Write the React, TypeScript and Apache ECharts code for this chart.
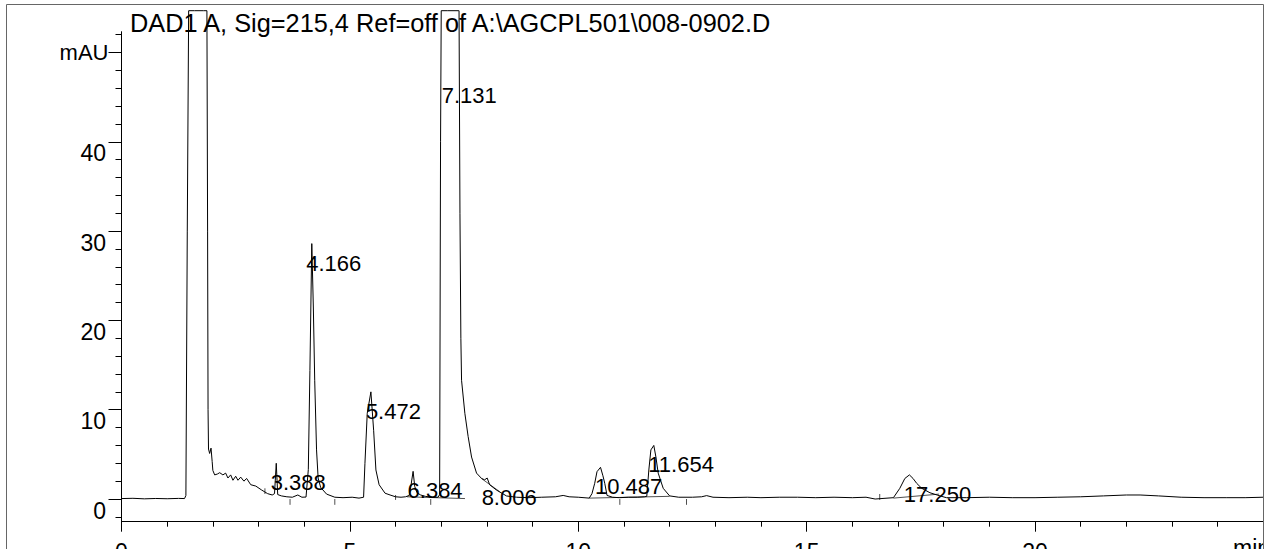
import React, { useEffect, useRef } from "react";
import * as echarts from "echarts";

// ---- Data ----
const TITLE = "DAD1 A, Sig=215,4 Ref=off of A:\\AGCPL501\\008-0902.D";

// retention time (min)
const timeMin = [
  0.0, 0.25, 0.5, 0.75, 1.0, 1.25, 1.38, 1.41, 1.44, 1.47,
  1.6, 1.8, 1.87, 1.885, 1.895, 1.905, 1.93, 1.96, 1.985, 2.0,
  2.04, 2.1, 2.15, 2.22, 2.28, 2.33, 2.39, 2.44, 2.5, 2.55,
  2.61, 2.68, 2.74, 2.83, 2.94, 3.07, 3.2, 3.3, 3.35, 3.388,
  3.42, 3.5, 3.62, 3.74, 3.86, 3.95, 4.04, 4.09, 4.125, 4.166,
  4.2, 4.23, 4.27, 4.305, 4.36, 4.49, 4.67, 4.85, 5.05, 5.2,
  5.3, 5.33, 5.38, 5.46, 5.52, 5.57, 5.64, 5.77, 5.88, 6.0,
  6.12, 6.22, 6.3, 6.34, 6.384, 6.42, 6.47, 6.55, 6.65, 6.8,
  6.93, 6.965, 6.985, 7.0, 7.131, 7.37, 7.39, 7.41, 7.43, 7.445,
  7.517, 7.589, 7.664, 7.773, 7.883, 7.95, 8.006, 8.06, 8.21, 8.43,
  8.65, 8.9, 9.2, 9.5, 9.67, 9.8, 10.0, 10.24, 10.3, 10.36,
  10.41, 10.487, 10.54, 10.58, 10.63, 10.75, 10.9, 11.1, 11.3, 11.45,
  11.5, 11.545, 11.59, 11.654, 11.7, 11.75, 11.86, 12.0, 12.2, 12.5,
  12.7, 12.81, 12.95, 13.3, 13.7, 14.0, 14.4, 14.8, 15.2, 15.6,
  16.0, 16.3, 16.5, 16.9, 17.04, 17.15, 17.25, 17.33, 17.41, 17.52,
  17.7, 17.92, 18.06, 18.5, 19.0, 19.5, 20.0, 20.5, 21.0, 21.5,
  22.0, 22.3, 22.7, 23.2, 23.7, 24.2, 24.6, 25.0,
];

// absorbance (mAU)
const signalMAU = [
  0.05, 0.08, 0.02, 0.06, 0.03, 0.07, 0.05, 0.4, 30, 100,
  150, 150, 100, 30, 10, 5.6, 5.1, 5.7, 4.2, 3.2,
  2.7, 2.8, 2.95, 2.7, 2.9, 2.35, 2.7, 2.1, 2.55, 2.1,
  2.45, 2.0, 2.3, 1.6, 1.45, 1.0, 0.6, 0.45, 0.6, 4.0,
  0.5, 0.35, 0.25, 0.2, 0.45, 0.2, 0.22, 3.3, 14.4, 28.6,
  21.5, 13.3, 5.5, 2.35, 1.3, 0.55, 0.2, 0.15, 0.2, 0.1,
  0.2, 4.0, 9.6, 12.0, 7.7, 3.25, 1.6, 0.65, 0.45, 0.25,
  0.2, 0.25, 0.4, 1.6, 3.1, 1.4, 0.7, 0.45, 0.3, 0.2,
  0.2, 0.5, 40, 100, 250, 100, 55, 32, 18, 13.3,
  9.6, 7.0, 4.7, 2.9, 2.3, 2.15, 2.35, 1.6, 1.0, 0.34,
  0.2, 0.15, 0.2, 0.25, 0.4, 0.25, 0.2, 0.1, 0.6, 1.76,
  3.06, 3.55, 2.6, 1.76, 0.4, 0.2, 0.15, 0.2, 0.2, 0.25,
  0.3, 3.25, 5.5, 6.0, 4.7, 2.9, 1.2, 0.35, 0.2, 0.2,
  0.25, 0.38, 0.2, 0.15, 0.2, 0.15, 0.2, 0.2, 0.15, 0.2,
  0.15, 0.2, 0.0, 0.15, 1.2, 2.3, 2.7, 2.3, 1.75, 1.2,
  0.7, 0.35, 0.15, 0.15, 0.2, 0.15, 0.15, 0.2, 0.25, 0.35,
  0.45, 0.45, 0.35, 0.2, 0.15, 0.15, 0.15, 0.2,
];

// integrated peaks
const peakRT = ["3.388", "4.166", "5.472", "6.384", "7.131", "8.006", "10.487", "11.654", "17.250"];
const peakApexMAU = [4.0, 28.6, 12.0, 3.1, 250, 2.35, 3.55, 6.0, 2.7];

// integration baselines (start / end points, min & mAU)
const baselineStartT = [6.25, 7.88, 10.24, 16.9];
const baselineStartV = [0.25, 2.3, 0.1, 0.1];
const baselineEndT = [7.52, 8.28, 12.0, 17.9];
const baselineEndV = [0.05, 0.82, 0.3, 0.55];

// integration event ticks (min, from mAU, to mAU)
const eventT = [3.69, 4.67, 6.77, 10.91, 12.37, 3.14, 6.0, 16.6];
const eventFrom = [0, 0, 0, 0, 0, 0.56, -0.1, -0.1];
const eventTo = [-0.65, -0.65, -0.65, -0.65, -0.65, 1.2, 0.45, 0.56];

// axes
const yMajorTicks = [0, 10, 20, 30, 40, 50];
const yLabelValues = [0, 10, 20, 30, 40];
const yMinorTicks = [-2, 2, 4, 6, 8, 12, 14, 16, 18, 22, 24, 26, 28, 32, 34, 36, 38, 42, 44, 46, 48, 52];
const Y_MIN = -2.54;
const Y_AXIS_MAX = 52.33;
const Y_DATA_MAX = 54.68; // display clip level of the recorder trace
const LABEL_CAP = 47.4; // highest position of a peak label

const FONT = '"Liberation Sans", Arial, Helvetica, sans-serif';

export default function App() {
  const ref = useRef<HTMLDivElement>(null);

  useEffect(() => {
    if (!ref.current) return;
    const chart = echarts.init(ref.current, undefined, { renderer: "svg" });

    const trace = timeMin.map((t, i) => [t, Math.min(signalMAU[i], Y_DATA_MAX)]);

    const baseSeries = baselineStartT.map((t, i) => ({
      type: "line",
      xAxisIndex: 1,
      yAxisIndex: 2,
      data: [
        [t, baselineStartV[i]],
        [baselineEndT[i], baselineEndV[i]],
      ],
      showSymbol: false,
      silent: true,
      clip: false,
      lineStyle: { color: "#222", width: 0.8 },
      z: 3,
    }));

    const tickSeries = eventT.map((t, i) => ({
      type: "line",
      xAxisIndex: 1,
      yAxisIndex: 2,
      data: [
        [t, eventFrom[i]],
        [t, eventTo[i]],
      ],
      showSymbol: false,
      silent: true,
      clip: false,
      lineStyle: { color: "#222", width: 0.8 },
      z: 3,
    }));

    const labelData = peakRT.map((rt, i) => [parseFloat(rt), Math.min(peakApexMAU[i], LABEL_CAP), rt]);

    const axisText = { color: "#000", fontFamily: FONT, fontSize: 23 };

    chart.setOption({
      animation: false,
      backgroundColor: "#fff",
      grid: [
        { left: 121.5, right: 5.6, top: 31.7, bottom: 27.3, containLabel: false, outerBoundsMode: "none" },
        { left: 121.5, right: 5.6, top: 10.7, bottom: 27.3, containLabel: false, outerBoundsMode: "none" },
      ],
      xAxis: [
        {
          gridIndex: 0,
          type: "value",
          position: "bottom",
          min: 0,
          max: 25,
          interval: 5,
          axisLine: { show: true, onZero: false, lineStyle: { color: "#000", width: 1 } },
          axisTick: { show: true, length: 10, lineStyle: { color: "#000" } },
          minorTick: { show: true, splitNumber: 5, length: 5, lineStyle: { color: "#000" } },
          splitLine: { show: false },
          minorSplitLine: { show: false },
          axisLabel: {
            ...axisText,
            margin: 19,
            formatter: (v: number) => (v >= 25 ? "" : String(v)),
          },
        },
        { gridIndex: 1, type: "value", min: 0, max: 25, show: false },
      ],
      yAxis: [
        {
          gridIndex: 0,
          type: "value",
          position: "left",
          offset: 0,
          min: Y_MIN,
          max: Y_AXIS_MAX,
          axisLine: { show: true, onZero: false, lineStyle: { color: "#000", width: 1 } },
          axisTick: { show: true, length: 13, customValues: yMajorTicks, lineStyle: { color: "#000" } },
          axisLabel: {
            ...axisText,
            customValues: yLabelValues,
            margin: 15.5,
            verticalAlign: "top",
            formatter: (v: number) => String(Math.round(v)),
          },
          splitLine: { show: false },
        },
        {
          gridIndex: 0,
          type: "value",
          position: "left",
          offset: 0,
          min: Y_MIN,
          max: Y_AXIS_MAX,
          axisLine: { show: false, onZero: false },
          axisTick: { show: true, length: 6, customValues: yMinorTicks, lineStyle: { color: "#000" } },
          axisLabel: {
            ...axisText,
            fontSize: 22,
            customValues: [50],
            margin: 13,
            verticalAlign: "middle",
            formatter: () => "mAU",
          },
          splitLine: { show: false },
        },
        { gridIndex: 1, type: "value", min: Y_MIN, max: Y_DATA_MAX, show: false },
      ],
      series: [
        {
          type: "line",
          name: "DAD1 A",
          xAxisIndex: 1,
          yAxisIndex: 2,
          data: trace,
          showSymbol: false,
          silent: true,
          clip: false,
          lineStyle: { color: "#000", width: 1 },
          z: 4,
        },
        ...baseSeries,
        ...tickSeries,
        {
          type: "scatter",
          xAxisIndex: 1,
          yAxisIndex: 2,
          data: labelData,
          symbolSize: 0.1,
          itemStyle: { color: "rgba(0,0,0,0)" },
          silent: true,
          z: 5,
          label: {
            show: true,
            position: [-5.5, 19.5],
            align: "left",
            verticalAlign: "middle",
            color: "#000",
            opacity: 1,
            textBorderWidth: 0,
            fontFamily: FONT,
            fontSize: 22,
            formatter: (p: any) => p.value[2],
          },
        },
      ],
      graphic: [
        {
          type: "text",
          x: 130,
          y: 23.3,
          scaleX: 0.975,
          z: 1,
          style: {
            text: TITLE,
            fill: "#000",
            font: `26px ${FONT}`,
            align: "left",
            verticalAlign: "middle",
          },
        },
        {
          type: "text",
          x: 1233,
          y: 547.5,
          z: 10,
          style: {
            text: "min",
            fill: "#000",
            font: `23px ${FONT}`,
            align: "left",
            verticalAlign: "middle",
          },
        },
        {
          type: "rect",
          z: 11,
          shape: { x: 1264, y: 0, width: 10, height: 549 },
          style: { fill: "#fff" },
        },
        {
          type: "rect",
          z: 12,
          shape: { x: 6.5, y: 4.5, width: 1257, height: 600 },
          style: { fill: "none", stroke: "#666", lineWidth: 1 },
        },
      ],
    });

    return () => chart.dispose();
  }, []);

  return (
    <div
      ref={ref}
      style={{ position: "fixed", left: 0, top: 0, width: 1269, height: 549, background: "#fff" }}
    />
  );
}
